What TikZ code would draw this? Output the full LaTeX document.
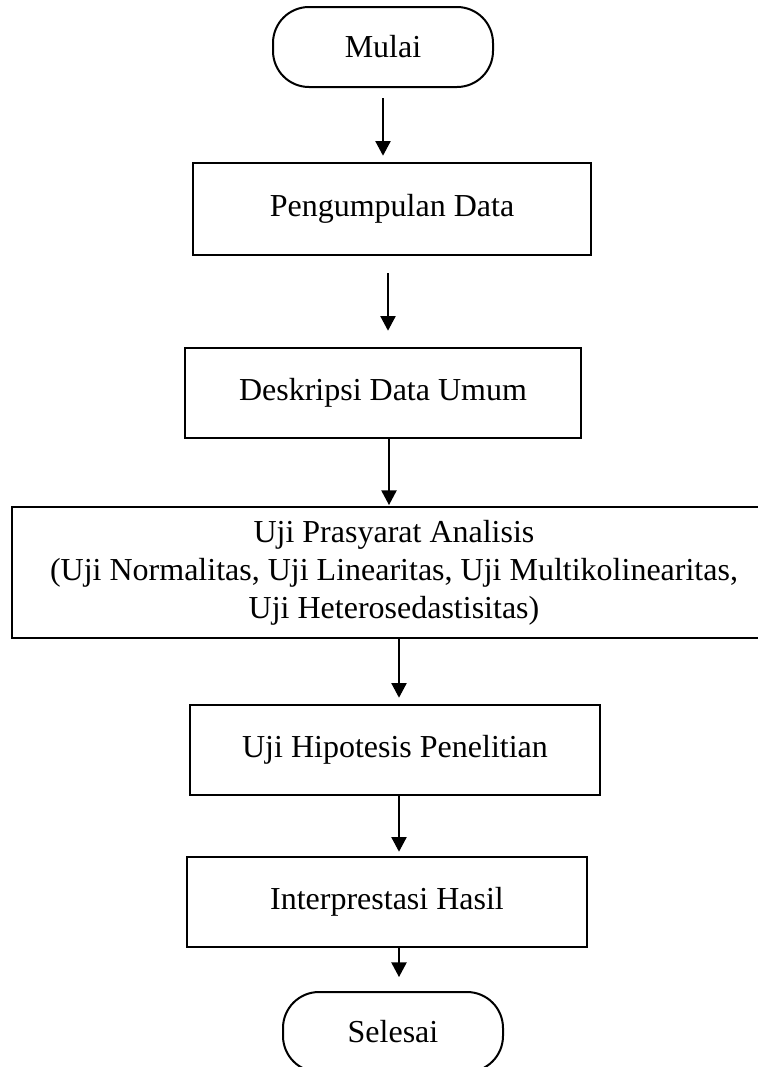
\documentclass[tikz,border=0pt]{standalone}
\usepackage{fontspec}
\setmainfont{Liberation Serif}
\usetikzlibrary{arrows.meta}
\begin{document}
\begin{tikzpicture}[x=0.75pt,y=-0.75pt,
  txt/.style={font=\fontsize{24}{28.5}\selectfont, align=center, inner sep=0pt},
  box/.style={txt, draw, line width=2pt},
  term/.style={txt, draw, line width=1.5pt, rounded corners=27pt, minimum width=165pt, minimum height=60pt},
  arr/.style={-{Triangle[width=11.5pt,length=11pt]}, line width=1pt}]
\useasboundingbox (0,0) rectangle (757,1067);
\node[term] (mulai) at (383,47) {Mulai};
\node[box, minimum width=298.5pt, minimum height=69pt] (peng) at (392,209) {Pengumpulan Data};
\node[box, minimum width=297pt, minimum height=67.5pt] (desk) at (383,393) {Deskripsi Data Umum};
\node[box, minimum width=573pt, minimum height=98.25pt] (pras) at (394,572.5) {Uji Prasyarat Analisis\\(Uji Normalitas, Uji Linearitas, Uji Multikolinearitas,\\Uji Heterosedastisitas)};
\node[box, minimum width=307.5pt, minimum height=67.5pt] (hip) at (395,750) {Uji Hipotesis Penelitian};
\node[box, minimum width=300pt, minimum height=67.5pt] (int) at (387,902) {Interprestasi Hasil};
\node[term] (sel) at (393,1032) {Selesai};
\coordinate (s1) at (mulai.south);
\coordinate (s2) at ([xshift=-3pt]peng.south);
\coordinate (s3) at ([xshift=4.5pt]desk.south);
\coordinate (s4) at ([xshift=3.75pt]pras.south);
\coordinate (s5) at ([xshift=3pt]hip.south);
\coordinate (s6) at ([xshift=9pt]int.south);
\draw[arr, shorten <=7.5pt, shorten >=4.5pt] (s1) -- (s1 |- peng.north);
\draw[arr, shorten <=12.75pt, shorten >=12pt] (s2) -- (s2 |- desk.north);
\draw[arr, shorten >=0.5pt] (s3) -- (s3 |- pras.north);
\draw[arr, shorten >=4.5pt] (s4) -- (s4 |- hip.north);
\draw[arr, shorten >=3pt] (s5) -- (s5 |- int.north);
\draw[arr, shorten >=10.5pt] (s6) -- (s6 |- sel.north);
\end{tikzpicture}
\end{document}
